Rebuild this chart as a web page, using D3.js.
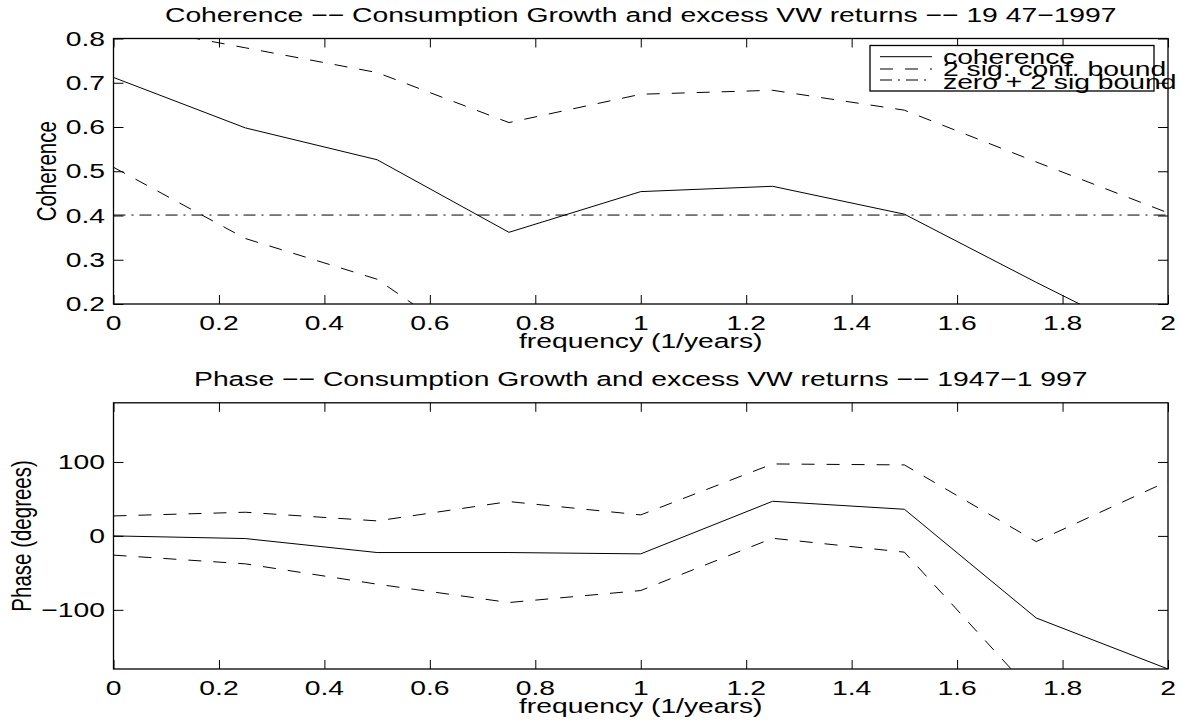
<!DOCTYPE html>
<html>
<head>
<meta charset="utf-8">
<script src="https://cdn.jsdelivr.net/npm/d3@7"></script>
<style>
  body { margin: 0; background: #fff; }
  svg { display: block; }
  text { font-family: "Liberation Sans", Arial, Helvetica, sans-serif; font-size: 20.5px; fill: #000; }
</style>
</head>
<body>
<div id="chart"></div>
<script>
// donnees
var freq = [0, 0.25, 0.5, 0.75, 1, 1.25, 1.5, 1.75, 2];
var coherence = [0.712, 0.598, 0.526, 0.362, 0.454, 0.466, 0.403, 0.249, 0.10];
var cohUpper = [0.835, 0.779, 0.723, 0.610, 0.674, 0.683, 0.638, 0.521, 0.406];
var cohLower = [0.509, 0.348, 0.256, 0.05, 0.15, 0.16, 0.10, -0.05, -0.2];
var zeroBound = [0.401, 0.401, 0.401, 0.401, 0.401, 0.401, 0.401, 0.401, 0.401];

var phase = [0, -3.6, -22.5, -22.5, -24.3, 46.8, 36, -111, -180];
var phaseUpper = [27, 32, 20.3, 46.4, 28.4, 97.3, 96, -7.7, 74];
var phaseLower = [-26, -37.8, -65.3, -90.1, -73.9, -3.2, -22, -217, -250];

var xTicks = [0, 0.2, 0.4, 0.6, 0.8, 1, 1.2, 1.4, 1.6, 1.8, 2];
var xTickLabels = ["0", "0.2", "0.4", "0.6", "0.8", "1", "1.2", "1.4", "1.6", "1.8", "2"];
var cohTicks = [0.2, 0.3, 0.4, 0.5, 0.6, 0.7, 0.8];
var cohTickLabels = ["0.2", "0.3", "0.4", "0.5", "0.6", "0.7", "0.8"];
var phaseTicks = [-100, 0, 100];
var phaseTickLabels = ["\u2212100", "0", "100"];
var legendLabels = ["coherence", "2 sig. conf. bound", "zero + 2 sig bound"];

var width = 1181, height = 727;
var sx = 1.38; // texte etire horizontalement
var left = 113.5, right = 1168;

var svg = d3.select("#chart").append("svg")
  .attr("width", width).attr("height", height);

var x = d3.scaleLinear().domain([0, 2]).range([left, right]);
var yCoh = d3.scaleLinear().domain([0.2, 0.8]).range([304, 38.5]);
var yPhase = d3.scaleLinear().domain([-180, 180]).range([669, 402.8]);

function label(g, px, py, str, anchor, rot) {
  var t = "translate(" + px + "," + py + ") scale(" + sx + ",1)" + (rot ? " rotate(-90)" : "");
  return g.append("text").attr("transform", t).attr("text-anchor", anchor || "middle").text(str);
}

function drawPanel(id, y, yTicks, yLabels, title, ylab, series) {
  var g = svg.append("g").attr("class", id);
  var y0 = y.range()[0], y1 = y.range()[1];

  g.append("clipPath").attr("id", "clip-" + id)
    .append("rect").attr("x", left).attr("y", y1).attr("width", right - left).attr("height", y0 - y1);

  // lignes de donnees
  var plot = g.append("g").attr("clip-path", "url(#clip-" + id + ")");
  series.forEach(function (s) {
    var line = d3.line().x(function (d, i) { return x(freq[i]); }).y(function (d) { return y(d); });
    plot.append("path").datum(s.values)
      .attr("d", line)
      .attr("fill", "none")
      .attr("stroke", "#000")
      .attr("stroke-width", 1)
      .attr("stroke-dasharray", s.dash);
  });

  // axes, ticks vers l'interieur
  g.append("g").attr("transform", "translate(0," + y0 + ")")
    .call(d3.axisBottom(x).tickValues(xTicks).tickSizeInner(-9).tickSizeOuter(0).tickFormat(""));
  g.append("g").attr("transform", "translate(0," + y1 + ")")
    .call(d3.axisTop(x).tickValues(xTicks).tickSizeInner(-9).tickSizeOuter(0).tickFormat(""));
  g.append("g").attr("transform", "translate(" + left + ",0)")
    .call(d3.axisLeft(y).tickValues(yTicks).tickSizeInner(-10).tickSizeOuter(0).tickFormat(""));
  g.append("g").attr("transform", "translate(" + right + ",0)")
    .call(d3.axisRight(y).tickValues(yTicks).tickSizeInner(-10).tickSizeOuter(0).tickFormat(""));
  g.selectAll(".domain").remove();
  g.selectAll(".tick line").attr("stroke", "#000").attr("stroke-width", 1);

  g.append("rect").attr("x", left).attr("y", y1).attr("width", right - left).attr("height", y0 - y1)
    .attr("fill", "none").attr("stroke", "#000").attr("stroke-width", 1.3);

  xTicks.forEach(function (v, i) { label(g, x(v), y0 + 26, xTickLabels[i], "middle"); });
  yTicks.forEach(function (v, i) { label(g, left - 8.5, y(v) + 7, yLabels[i], "end"); });

  label(g, (left + right) / 2, y1 - 17, title, "middle");
  label(g, (left + right) / 2, y0 + 44, "frequency (1/years)", "middle");
  label(g, ylab.x, (y0 + y1) / 2, ylab.text, "middle", true);
  return g;
}

drawPanel("coh", yCoh, cohTicks, cohTickLabels,
  "Coherence \u2212\u2212 Consumption Growth and excess VW returns \u2212\u2212 19 47\u22121997",
  { x: 56, text: "Coherence" },
  [
    { values: coherence, dash: null },
    { values: cohUpper, dash: "13,12" },
    { values: cohLower, dash: "13,12" },
    { values: zeroBound, dash: "12,6,2,6" }
  ]);

drawPanel("phase", yPhase, phaseTicks, phaseTickLabels,
  "Phase \u2212\u2212 Consumption Growth and excess VW returns \u2212\u2212 1947\u22121 997",
  { x: 31, text: "Phase (degrees)" },
  [
    { values: phase, dash: null },
    { values: phaseUpper, dash: "13,12" },
    { values: phaseLower, dash: "13,12" }
  ]);

// legende
var leg = svg.append("g").attr("class", "legend");
leg.append("rect").attr("x", 870).attr("y", 45.5).attr("width", 284).attr("height", 45.5)
  .attr("fill", "#fff").attr("stroke", "#000").attr("stroke-width", 1.3);
var legDash = [null, "13,12", "12,6,2,6"];
var legY = [56.7, 69, 80];
var legBase = [63.5, 76, 88.5];
legendLabels.forEach(function (s, i) {
  leg.append("line").attr("x1", 880).attr("x2", 932).attr("y1", legY[i]).attr("y2", legY[i])
    .attr("stroke", "#000").attr("stroke-width", 1).attr("stroke-dasharray", legDash[i]);
  label(leg, 943, legBase[i], s, "start");
});
</script>
</body>
</html>
